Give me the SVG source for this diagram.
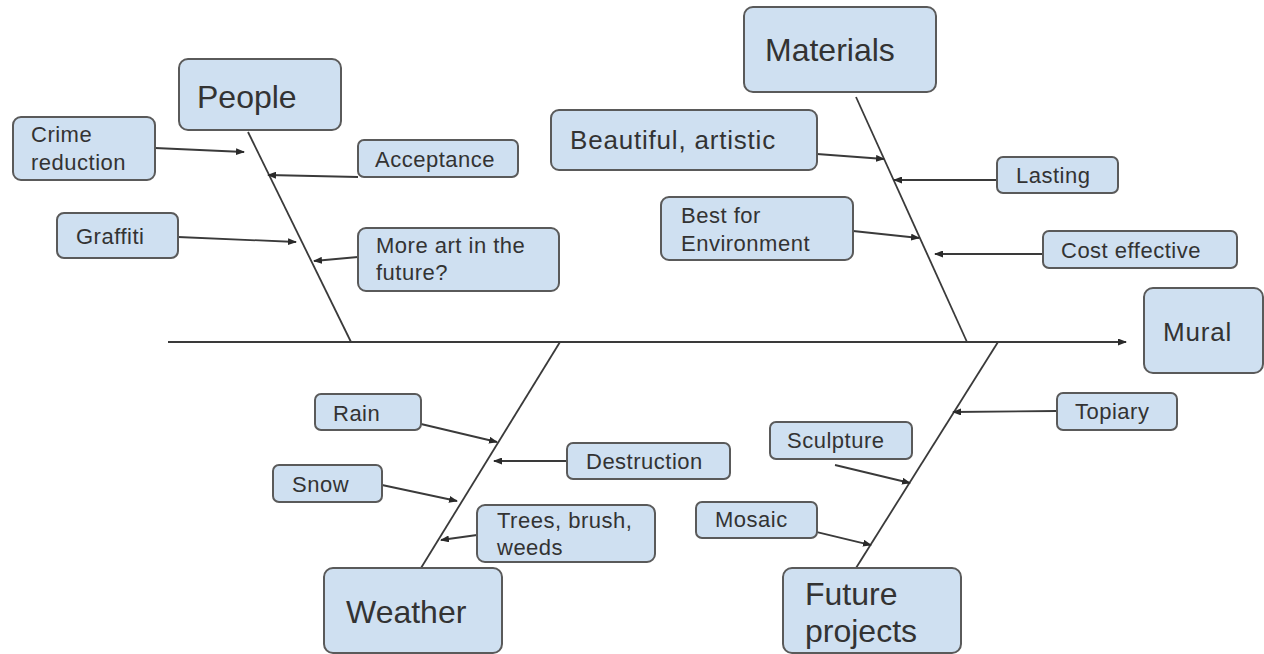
<svg xmlns="http://www.w3.org/2000/svg" width="1264" height="654" viewBox="0 0 1264 654">
<style>
.box{fill:#cfe0f1;stroke:#5a5a5a;stroke-width:2}
text{font-family:"Liberation Sans",Arial,sans-serif;fill:#333333}
.big{font-size:32px}
.med{font-size:26px;letter-spacing:0.8px}
.sm{font-size:22px;letter-spacing:0.5px}
.ln{stroke:#3a3a3a;stroke-width:1.8;fill:none}
.ar{marker-end:url(#ah)}
</style>
<defs>
<marker id="ah" markerWidth="9" markerHeight="7" refX="8" refY="3.5" orient="auto" markerUnits="userSpaceOnUse">
<path d="M0,0 L9,3.5 L0,7 z" fill="#2a2a2a"/>
</marker>
</defs>
<rect width="1264" height="654" fill="#ffffff"/>
<g id="connectors">
<line class="ln ar" x1="168" y1="342" x2="1126" y2="342" style="stroke-width:2"/>
<line class="ln" x1="248" y1="132" x2="351" y2="342"/>
<line class="ln" x1="856" y1="97" x2="967" y2="342"/>
<line class="ln" x1="560" y1="342" x2="421" y2="568"/>
<line class="ln" x1="998" y1="342" x2="856" y2="568"/>
<line class="ln ar" x1="155" y1="148" x2="244" y2="152"/>
<line class="ln ar" x1="358" y1="177" x2="268" y2="175"/>
<line class="ln ar" x1="178" y1="237" x2="296" y2="242"/>
<line class="ln ar" x1="358" y1="257" x2="314" y2="261"/>
<line class="ln ar" x1="817" y1="154" x2="884" y2="159"/>
<line class="ln ar" x1="997" y1="180" x2="894" y2="180"/>
<line class="ln ar" x1="853" y1="231" x2="919" y2="238"/>
<line class="ln ar" x1="1043" y1="254" x2="935" y2="254"/>
<line class="ln ar" x1="421" y1="424" x2="497" y2="442"/>
<line class="ln ar" x1="567" y1="461" x2="494" y2="461"/>
<line class="ln ar" x1="382" y1="485" x2="457" y2="501"/>
<line class="ln ar" x1="477" y1="535" x2="441" y2="540"/>
<line class="ln ar" x1="1057" y1="411" x2="953" y2="412"/>
<line class="ln ar" x1="835" y1="465" x2="910" y2="483"/>
<line class="ln ar" x1="817" y1="532" x2="871" y2="545"/>
</g>
<g id="people"><rect class="box" x="179" y="59" width="162" height="71" rx="9"/><text class="big" x="197" y="108">People</text></g>
<g id="crime"><rect class="box" x="13" y="117" width="142" height="63" rx="8"/><text class="sm" x="31" y="142">Crime</text><text class="sm" x="31" y="170">reduction</text></g>
<g id="acceptance"><rect class="box" x="358" y="140" width="160" height="37" rx="6"/><text class="sm" x="375" y="167">Acceptance</text></g>
<g id="graffiti"><rect class="box" x="57" y="213" width="121" height="45" rx="7"/><text class="sm" x="76" y="244">Graffiti</text></g>
<g id="moreart"><rect class="box" x="358" y="228" width="201" height="63" rx="8"/><text class="sm" x="376" y="253">More art in the</text><text class="sm" x="376" y="280">future?</text></g>
<g id="materials"><rect class="box" x="744" y="7" width="192" height="85" rx="9"/><text class="big" x="765" y="61">Materials</text></g>
<g id="beautiful"><rect class="box" x="551" y="110" width="266" height="60" rx="8"/><text class="med" x="570" y="149">Beautiful, artistic</text></g>
<g id="lasting"><rect class="box" x="997" y="157" width="121" height="36" rx="6"/><text class="sm" x="1016" y="183">Lasting</text></g>
<g id="bestenv"><rect class="box" x="661" y="197" width="192" height="63" rx="8"/><text class="sm" x="681" y="223">Best for</text><text class="sm" x="681" y="251">Environment</text></g>
<g id="cost"><rect class="box" x="1043" y="231" width="194" height="37" rx="6"/><text class="sm" x="1061" y="258">Cost effective</text></g>
<g id="mural"><rect class="box" x="1144" y="288" width="119" height="85" rx="9"/><text class="med" x="1163" y="341">Mural</text></g>
<g id="weather"><rect class="box" x="324" y="568" width="178" height="85" rx="9"/><text class="big" x="346" y="623">Weather</text></g>
<g id="rain"><rect class="box" x="315" y="394" width="106" height="36" rx="6"/><text class="sm" x="333" y="421">Rain</text></g>
<g id="destruction"><rect class="box" x="567" y="443" width="163" height="36" rx="6"/><text class="sm" x="586" y="469">Destruction</text></g>
<g id="snow"><rect class="box" x="273" y="465" width="109" height="37" rx="6"/><text class="sm" x="292" y="492">Snow</text></g>
<g id="trees"><rect class="box" x="477" y="505" width="178" height="57" rx="8"/><text class="sm" x="497" y="528">Trees, brush,</text><text class="sm" x="497" y="555">weeds</text></g>
<g id="future"><rect class="box" x="783" y="568" width="178" height="85" rx="9"/><text class="big" x="805" y="605">Future</text><text class="big" x="805" y="642">projects</text></g>
<g id="topiary"><rect class="box" x="1057" y="393" width="120" height="37" rx="6"/><text class="sm" x="1075" y="419">Topiary</text></g>
<g id="sculpture"><rect class="box" x="770" y="422" width="142" height="37" rx="6"/><text class="sm" x="787" y="448">Sculpture</text></g>
<g id="mosaic"><rect class="box" x="696" y="502" width="121" height="36" rx="6"/><text class="sm" x="715" y="527">Mosaic</text></g>
</svg>
